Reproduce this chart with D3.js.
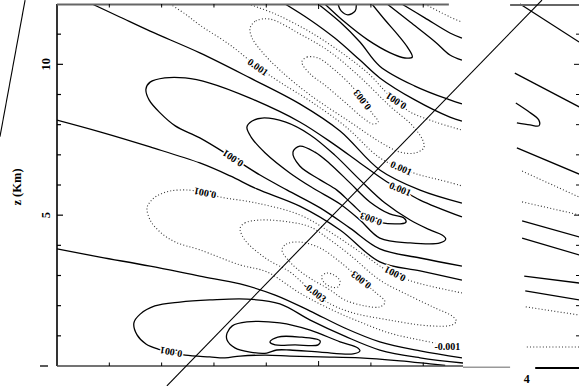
<!DOCTYPE html>
<html><head><meta charset="utf-8">
<script src="https://cdn.jsdelivr.net/npm/d3@7"></script>
<style>body{margin:0;background:#fff}svg{display:block}</style>
</head><body>
<svg id="c" width="579" height="386"></svg>
<script>
// Height axis (km) and horizontal distance ticks
const zTicks = [1,2,3,4,5,6,7,8,9,10,11];
const zLabels = [5, 10];
const xTicks = [10,20,30,40,50,60,70];

// Contour lines of the cross-section: level sign, closed flag, points [x, z]
const contours = [
  {level: -0.001, closed: false, pts: [[70.3,12.00],[75.1,11.57],[77.4,11.40]]},
  {level: 0.001, closed: false, pts: [[65.9,12.00],[70.3,11.54],[75.1,11.04],[77.4,10.87]]},
  {level: 0.003, closed: false, pts: [[63.1,12.00],[67.5,11.40],[72.3,10.74],[75.1,10.31],[77.4,10.14]]},
  {level: 0.005, closed: false, pts: [[51.2,12.00],[55.0,11.40],[59.4,10.81],[63.7,10.38],[66.5,10.21],[67.9,10.24],[67.1,10.54],[65.2,10.97],[62.7,11.47],[60.2,12.00]]},
  {level: 0.007, closed: false, pts: [[53.7,12.00],[54.3,11.77],[55.6,11.64],[57.0,11.77],[57.2,12.00]]},
  {level: 0.003, closed: false, pts: [[49.9,12.00],[54.1,11.40],[57.9,10.74],[61.7,9.94],[68.4,9.28],[75.1,8.82],[77.4,8.69]]},
  {level: 0.001, closed: false, pts: [[43.6,12.00],[48.4,11.47],[53.1,10.87],[57.9,10.14],[61.7,9.55],[68.4,8.82],[75.1,8.25],[77.4,8.12]]},
  {level: -0.001, closed: false, pts: [[36.5,12.00],[41.7,11.67],[48.4,11.07],[55.0,10.31],[59.8,9.65],[62.7,9.11],[64.8,8.78],[67.5,8.42],[72.3,8.09],[77.4,7.82]]},
  {level: -0.003, closed: true, pts: [[36.9,11.20],[38.0,11.44],[40.7,11.50],[46.4,11.01],[52.2,10.41],[57.9,9.58],[63.6,8.62],[67.8,7.99],[69.9,7.49],[70.1,7.23],[68.4,7.06],[65.6,7.09],[61.7,7.43],[56.0,8.09],[48.4,8.98],[42.6,9.81],[39.2,10.41],[37.3,10.87]]},
  {level: -0.005, closed: true, pts: [[46.8,10.08],[47.8,10.24],[49.9,10.21],[53.1,9.81],[57.0,9.15],[60.2,8.39],[61.4,8.09],[60.4,8.02],[58.3,8.25],[55.0,8.75],[51.2,9.31],[48.4,9.68]]},
  {level: -0.001, closed: false, pts: [[21.6,12.00],[24.5,11.67],[27.3,11.30],[33.1,10.64],[38.4,9.91],[42.6,9.41],[48.4,8.78],[55.0,7.96],[61.7,6.90],[65.8,6.56],[69.4,6.33],[73.2,6.17],[77.4,5.97]]},
  {level: 0.001, closed: false, pts: [[6.7,12.00],[12.0,11.57],[17.8,11.10],[27.3,10.38],[36.9,9.55],[46.4,8.69],[54.1,7.79],[61.7,6.50],[69.4,5.83],[77.4,5.40]]},
  {level: 0.003, closed: false, pts: [[77.4,4.94],[69.4,5.50],[65.6,5.87],[63.1,6.10],[57.9,6.73],[53.1,7.33],[46.4,8.09],[36.9,8.88],[29.2,9.38],[24.5,9.55],[20.6,9.55],[17.8,9.41],[17.0,9.18],[17.6,8.82],[19.7,8.39],[22.6,7.96],[27.3,7.56],[33.6,6.90],[38.8,6.33],[44.0,5.83],[50.3,5.24],[56.0,4.57],[61.7,3.88],[69.4,3.58],[77.4,3.31]]},
  {level: 0.005, closed: true, pts: [[36.3,7.92],[37.3,8.12],[39.2,8.22],[43.6,8.09],[48.4,7.66],[53.1,6.99],[57.9,6.17],[62.7,5.40],[67.5,4.84],[71.3,4.51],[73.6,4.34],[74.3,4.21],[73.2,4.08],[67.5,4.08],[61.7,4.24],[57.9,4.84],[54.1,5.37],[48.9,5.90],[44.5,6.40],[39.8,7.06],[37.1,7.59]]},
  {level: 0.007, closed: true, pts: [[45.1,7.09],[46.4,6.63],[50.3,6.17],[53.5,5.83],[56.4,5.37],[59.8,4.87],[64.6,4.71],[66.7,4.77],[66.3,4.91],[63.6,5.04],[59.8,5.44],[56.0,6.07],[52.2,6.70],[49.3,7.09],[46.4,7.29]]},
  {level: 0.001, closed: false, pts: [[0,8.15],[8.2,7.76],[17.8,7.26],[27.3,6.73],[33.1,6.30],[38.2,5.87],[46.4,5.30],[54.1,4.51],[61.7,3.45],[69.4,3.15],[77.4,2.85]]},
  {level: -0.001, closed: false, pts: [[77.4,2.42],[71.3,2.65],[67.1,2.85],[64.6,3.05],[62.3,3.25],[57.9,3.78],[52.2,4.44],[46.4,5.01],[38.2,5.40],[31.2,5.60],[28.3,5.73],[25.4,5.83],[21.6,5.80],[19.1,5.64],[17.8,5.44],[17.2,5.24],[17.8,4.84],[19.7,4.44],[22.6,4.11],[27.3,3.85],[35.0,3.35],[40.1,3.12],[46.4,2.42],[52.2,1.89],[57.9,1.46],[63.6,1.09],[69.4,0.86],[72.3,0.76]]},
  {level: -0.003, closed: true, pts: [[35.0,4.57],[35.9,4.74],[38.8,4.84],[44.5,4.77],[48.4,4.61],[52.2,4.18],[56.0,3.68],[61.7,2.85],[67.5,2.32],[72.3,1.92],[75.5,1.66],[76.3,1.49],[75.5,1.36],[71.3,1.33],[63.6,1.52],[56.0,1.79],[51.6,2.12],[49.3,2.45],[47.0,2.75],[44.5,3.12],[39.8,3.58],[35.9,4.18]]},
  {level: -0.005, closed: true, pts: [[43.0,3.85],[43.8,4.04],[46.4,4.11],[50.3,3.91],[54.1,3.45],[58.1,2.85],[60.8,2.45],[62.7,2.12],[61.7,1.96],[58.9,1.99],[55.0,2.19],[52.2,2.52],[47.4,3.02],[44.5,3.45]]},
  {level: -0.007, closed: true, pts: [[50.6,2.98],[51.6,3.08],[52.9,3.02],[54.1,2.82],[53.7,2.62],[52.4,2.62],[51.0,2.78]]},
  {level: 0.001, closed: false, pts: [[0,3.88],[8.2,3.61],[17.8,3.31],[27.3,2.98],[35.0,2.72],[41.7,2.35],[48.4,1.82],[55.0,1.26],[61.7,0.80],[69.4,0.50],[77.4,0.27]]},
  {level: 0.001, closed: false, pts: [[77.6,0.10],[69.4,0.27],[61.7,0.53],[55.0,0.99],[48.4,1.52],[42.6,2.06],[36.3,2.22],[29.2,2.19],[23.5,2.12],[18.7,1.99],[15.9,1.72],[14.7,1.43],[15.3,1.03],[17.0,0.73],[19.3,0.56],[21.8,0.46],[24.5,0.36],[29.2,0.30],[32.1,0.27],[35.0,0.33],[39.8,0.36],[44.5,0.33],[50.3,0.30],[57.9,0.27],[65.6,0.17],[71.3,0.07],[74.2,0.02]]},
  {level: 0.003, closed: true, pts: [[32.5,1.09],[33.5,1.33],[36.3,1.46],[42.6,1.43],[48.4,1.19],[54.1,0.80],[57.5,0.60],[57.9,0.50],[56.6,0.40],[50.3,0.46],[44.5,0.53],[42.0,0.53],[40.1,0.43],[36.9,0.46],[34.0,0.60],[32.5,0.86]]},
  {level: 0.005, closed: true, pts: [[40.7,0.80],[42.2,0.96],[46.4,0.96],[50.3,0.83],[49.9,0.70],[45.5,0.70],[41.7,0.70]]}
];

// Contour labels: text, position [x, z], rotation in degrees
const labels = [
  {text: "0.001", x: 38.4, z: 9.91, angle: 35},
  {text: "0.003", x: 58.3, z: 8.82, angle: 232},
  {text: "0.001", x: 64.8, z: 8.78, angle: 213},
  {text: "0.001", x: 33.6, z: 6.88, angle: 213},
  {text: "0.001", x: 65.8, z: 6.56, angle: 24},
  {text: "0.001", x: 65.6, z: 5.87, angle: 22},
  {text: "0.001", x: 28.3, z: 5.73, angle: 192},
  {text: "0.003", x: 60.0, z: 4.87, angle: 200},
  {text: "0.001", x: 64.6, z: 3.05, angle: 207},
  {text: "0.003", x: 58.1, z: 2.85, angle: 218},
  {text: "-0.003", x: 49.3, z: 2.45, angle: 38},
  {text: "-0.001", x: 74.6, z: 0.66, angle: 0},
  {text: "0.001", x: 21.8, z: 0.46, angle: 190}
];

// Neighbouring panel: edge contour segments
const sideLines = [
  {level: 0.001, pts: [[88.5,12.00],[99.8,10.74]]},
  {level: 0.001, pts: [[87.5,9.71],[99.8,8.59]]},
  {level: 0.003, pts: [[87.7,8.72],[90.0,8.45],[92.1,8.15],[92.1,7.96],[90.4,7.99],[87.9,8.06]]},
  {level: 0.001, pts: [[87.9,7.23],[99.8,6.36]]},
  {level: -0.001, pts: [[88.9,6.46],[99.8,5.60]]},
  {level: -0.001, pts: [[88.9,5.44],[99.8,5.01]]},
  {level: 0.001, pts: [[88.9,4.81],[99.8,4.28]]},
  {level: 0.001, pts: [[88.9,4.24],[99.8,3.68]]},
  {level: 0.001, pts: [[89.3,2.98],[99.8,2.75]]},
  {level: 0.001, pts: [[89.5,2.49],[99.8,2.19]]},
  {level: -0.001, pts: [[89.6,1.96],[99.8,1.69]]},
  {level: -0.001, pts: [[89.8,0.63],[99.8,0.63]]}
];

// Section guide lines
const guides = [
  [[21.0,-0.66],[92.7,12.13]],
  [[-6.1,12.13],[-10.9,7.6]]
];

const svg = d3.select("#c");
const x = d3.scaleLinear().domain([0, 77.6]).range([57, 463]);
const z = d3.scaleLinear().domain([0, 12]).range([366, 4]);
const openLine = d3.line().x(d => x(d[0])).y(d => z(d[1])).curve(d3.curveCatmullRom.alpha(0.5));
const closedLine = d3.line().x(d => x(d[0])).y(d => z(d[1])).curve(d3.curveCatmullRomClosed.alpha(0.5));
const straight = d3.line().x(d => x(d[0])).y(d => z(d[1]));

const styleLine = (sel, level) => sel
  .attr("fill", "none")
  .attr("stroke", level > 0 ? "#000" : "#333")
  .attr("stroke-width", level > 0 ? 1.3 : 1.1)
  .attr("stroke-dasharray", level > 0 ? null : "1,2.2");

svg.append("clipPath").attr("id", "plot").append("rect")
  .attr("x", x(0)).attr("y", z(12)).attr("width", x(77.6) - x(0)).attr("height", z(0) - z(12));

const g = svg.append("g").attr("clip-path", "url(#plot)");
contours.forEach(c => {
  g.append("path").attr("d", (c.closed ? closedLine : openLine)(c.pts)).call(styleLine, c.level);
});

labels.forEach(l => {
  g.append("text")
    .attr("transform", `translate(${x(l.x)},${z(l.z)}) rotate(${l.angle})`)
    .attr("text-anchor", "middle").attr("dy", "0.35em")
    .attr("font-family", "Liberation Serif").attr("font-weight", "bold").attr("font-size", 10)
    .attr("stroke", "#fff").attr("stroke-width", 3).attr("paint-order", "stroke")
    .attr("fill", "#000").text(l.text);
});

sideLines.forEach(s => {
  svg.append("path").attr("d", openLine(s.pts)).call(styleLine, s.level);
});

// frame of the main panel
svg.append("line").attr("x1", x(0)).attr("x2", x(0)).attr("y1", z(12)).attr("y2", z(0)).attr("stroke", "#000").attr("stroke-width", 1.6);
svg.append("line").attr("x1", x(0)).attr("x2", x(74.9)).attr("y1", z(12) + 0.5).attr("y2", z(12) + 0.5).attr("stroke", "#666").attr("stroke-width", 2);
svg.append("line").attr("x1", x(0)).attr("x2", x(77.6)).attr("y1", z(0)).attr("y2", z(0)).attr("stroke", "#444").attr("stroke-width", 1.6);
svg.append("line").attr("x1", x(77.6)).attr("x2", x(86.6)).attr("y1", z(-0.04)).attr("y2", z(-0.04)).attr("stroke", "#999").attr("stroke-width", 1.4);
svg.append("line").attr("x1", 40).attr("x2", 48).attr("y1", z(0)).attr("y2", z(0)).attr("stroke", "#000").attr("stroke-width", 1.3);

zTicks.forEach(t => {
  const len = zLabels.includes(t) ? 6 : 4;
  svg.append("line").attr("x1", x(0)).attr("x2", x(0) + len).attr("y1", z(t)).attr("y2", z(t)).attr("stroke", "#000").attr("stroke-width", 1.2);
});
xTicks.forEach(t => {
  const len = t === 50 ? 5 : 3.5;
  svg.append("line").attr("x1", x(t)).attr("x2", x(t)).attr("y1", z(12)).attr("y2", z(12) + len).attr("stroke", "#000");
  svg.append("line").attr("x1", x(t)).attr("x2", x(t)).attr("y1", z(0)).attr("y2", z(0) - len).attr("stroke", "#000");
});
zLabels.forEach(t => {
  svg.append("text").attr("transform", `translate(${x(0) - 7},${z(t)}) rotate(-90)`)
    .attr("text-anchor", "middle").attr("font-family", "Liberation Serif").attr("font-weight", "bold")
    .attr("font-size", 12.5).text(t);
});
svg.append("text").attr("transform", `translate(21,187) rotate(-90)`)
  .attr("text-anchor", "middle").attr("font-family", "Liberation Serif").attr("font-weight", "bold")
  .attr("font-size", 12.5).text("z (Km)");

// neighbouring panel frame, ticks and label
svg.append("line").attr("x1", x(86.6)).attr("x2", x(99.8)).attr("y1", z(11.97)).attr("y2", z(11.97)).attr("stroke", "#666").attr("stroke-width", 2);
svg.append("line").attr("x1", x(91.4)).attr("x2", x(99.8)).attr("y1", z(-0.07)).attr("y2", z(-0.07)).attr("stroke", "#000").attr("stroke-width", 2);
zTicks.forEach(t => {
  const len = zLabels.includes(t) ? 5 : 3;
  svg.append("line").attr("x1", 579 - len).attr("x2", 579).attr("y1", z(t)).attr("y2", z(t)).attr("stroke", "#000");
});
svg.append("text").attr("x", x(89.8)).attr("y", 383).attr("text-anchor", "middle")
  .attr("font-family", "Liberation Serif").attr("font-weight", "bold").attr("font-size", 12).text("4");

guides.forEach(p => {
  svg.append("path").attr("d", straight(p)).attr("stroke", "#000").attr("stroke-width", 1.1).attr("fill", "none");
});
</script>
</body></html>
